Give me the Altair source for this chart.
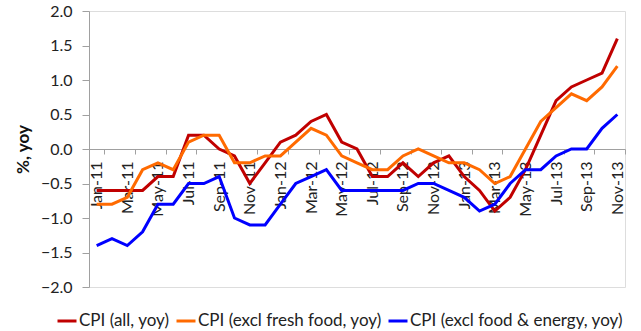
import altair as alt
import pandas as pd

months = [
    "Jan-11", "Feb-11", "Mar-11", "Apr-11", "May-11", "Jun-11", "Jul-11", "Aug-11", "Sep-11", "Oct-11", "Nov-11", "Dec-11",
    "Jan-12", "Feb-12", "Mar-12", "Apr-12", "May-12", "Jun-12", "Jul-12", "Aug-12", "Sep-12", "Oct-12", "Nov-12", "Dec-12",
    "Jan-13", "Feb-13", "Mar-13", "Apr-13", "May-13", "Jun-13", "Jul-13", "Aug-13", "Sep-13", "Oct-13", "Nov-13",
]

cpi_all = [
    -0.6, -0.6, -0.6, -0.6, -0.4, -0.4, 0.2, 0.2, 0.0, -0.1, -0.5, -0.2,
    0.1, 0.2, 0.4, 0.5, 0.1, 0.0, -0.4, -0.4, -0.2, -0.4, -0.2, -0.1,
    -0.4, -0.6, -0.9, -0.7, -0.3, 0.2, 0.7, 0.9, 1.0, 1.1, 1.6,
]
cpi_ex_fresh = [
    -0.8, -0.8, -0.7, -0.3, -0.2, -0.3, 0.1, 0.2, 0.2, -0.2, -0.2, -0.1,
    -0.1, 0.1, 0.3, 0.2, -0.1, -0.2, -0.3, -0.3, -0.1, 0.0, -0.1, -0.2,
    -0.2, -0.3, -0.5, -0.4, 0.0, 0.4, 0.6, 0.8, 0.7, 0.9, 1.2,
]
cpi_ex_food_energy = [
    -1.4, -1.3, -1.4, -1.2, -0.8, -0.8, -0.5, -0.5, -0.4, -1.0, -1.1, -1.1,
    -0.8, -0.5, -0.4, -0.3, -0.6, -0.6, -0.6, -0.6, -0.6, -0.5, -0.5, -0.6,
    -0.7, -0.9, -0.8, -0.5, -0.3, -0.3, -0.1, 0.0, 0.0, 0.3, 0.5,
]

series_names = [
    "CPI (all, yoy)",
    "CPI (excl fresh food, yoy)",
    "CPI (excl food & energy, yoy)",
]
series_colors = ["#C00000", "#FF6A00", "#0000FF"]

rows = []
for name, vals in zip(series_names, [cpi_all, cpi_ex_fresh, cpi_ex_food_energy]):
    for m, v in zip(months, vals):
        rows.append({"month": m, "series": name, "value": v})
df = pd.DataFrame(rows)

font = "Lato"
label_months = months[::2]

chart = (
    alt.Chart(df)
    .mark_line(strokeWidth=3)
    .encode(
        x=alt.X(
            "month:O",
            sort=months,
            bandPosition=0.5,
            scale=alt.Scale(type="band", paddingInner=0, paddingOuter=0),
            axis=alt.Axis(
                title=None,
                values=label_months,
                labelAngle=-90,
                labelFontSize=16,
                labelColor="#222222",
                labelFont=font,
                tickBand="extent",
                tickSize=5,
                tickColor="#A0A0A0",
                domainColor="#A0A0A0",
                offset=-138,
                labelPadding=7,
            ),
        ),
        y=alt.Y(
            "value:Q",
            scale=alt.Scale(domain=[-2.0, 2.0], nice=False, zero=False),
            axis=alt.Axis(
                title="%, yoy",
                titleFont=font,
                titleFontSize=17,
                titleFontWeight="bold",
                titleColor="#111111",
                titlePadding=8,
                values=[-2.0, -1.5, -1.0, -0.5, 0.0, 0.5, 1.0, 1.5, 2.0],
                format=".1f",
                labelFontSize=16,
                labelFont=font,
                labelColor="#222222",
                grid=False,
                tickSize=7,
                tickColor="#A0A0A0",
                domainColor="#A0A0A0",
                labelPadding=10,
            ),
        ),
        color=alt.Color(
            "series:N",
            sort=series_names,
            scale=alt.Scale(domain=series_names, range=series_colors),
            legend=alt.Legend(
                title=None,
                orient="none",
                legendX=-33,
                legendY=299,
                direction="horizontal",
                columns=3,
                symbolType="stroke",
                symbolSize=361,
                symbolStrokeWidth=3,
                labelFontSize=17,
                labelFont=font,
                labelColor="#222222",
                labelLimit=400,
                labelOffset=1,
                columnPadding=0,
            ),
        ),
    )
    .properties(
        width=536,
        height=276,
        padding={"left": 89, "top": 11, "right": 16, "bottom": 44},
        autosize=alt.AutoSizeParams(type="none"),
    )
    .configure_view(stroke=None)
    .configure(background="white")
)

chart.save("out.html", embed_options={"renderer": "svg", "actions": False})
